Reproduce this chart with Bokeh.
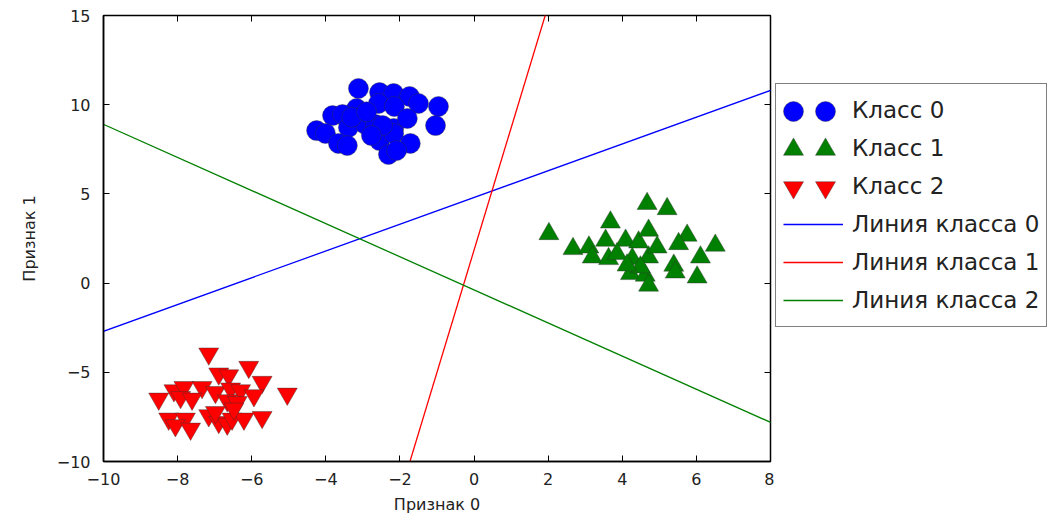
from bokeh.plotting import figure
from bokeh.layouts import row
from bokeh.models import (LinearAxis, Legend, LegendItem, FixedTicker, Range1d,
                          CustomJSTickFormatter)
from bokeh.embed import file_html
from bokeh.resources import INLINE

# ---- data ----
class0_x = [-3.12, -2.55, -2.17, -1.74, -1.50, -0.96, -3.17, -2.58, -2.15, -3.82,
            -3.55, -3.39, -2.93, -2.66, -2.17, -1.80, -1.04, -4.25, -4.01, -3.66,
            -3.42, -2.55, -2.17, -1.72, -2.31, -2.47, -2.09, -2.77, -3.30, -2.90]
class0_y = [10.91, 10.68, 10.63, 10.46, 10.07, 9.90, 9.79, 10.07, 9.90, 9.39,
            9.45, 8.72, 8.89, 8.89, 8.67, 9.23, 8.83, 8.55, 8.39, 7.83,
            7.71, 7.99, 8.39, 7.83, 7.21, 8.83, 7.43, 8.27, 9.30, 9.60]

class1_x = [4.67, 5.21, 2.02, 3.68, 2.67, 3.10, 3.55, 4.09, 4.44, 4.71,
            5.75, 5.52, 6.51, 3.19, 3.63, 3.86, 4.27, 4.71, 4.94, 6.11,
            5.39, 5.43, 4.22, 4.62, 6.02, 4.71, 4.49, 4.13]
class1_y = [4.45, 4.16, 2.76, 3.41, 1.92, 2.01, 2.39, 2.39, 2.29, 2.95,
            2.67, 2.20, 2.11, 1.45, 1.36, 1.64, 1.36, 1.45, 2.01, 1.45,
            0.99, 0.61, 0.52, 0.43, 0.33, -0.13, 0.89, 1.00]

class2_x = [-7.16, -6.08, -6.89, -6.62, -5.72, -5.04, -8.51, -8.10, -7.83, -7.34,
            -6.98, -6.57, -6.30, -5.94, -7.92, -7.61, -6.66, -6.39, -8.24, -7.79,
            -8.06, -7.65, -7.16, -6.89, -6.66, -6.53, -6.21, -5.72, -6.98, -6.48]
class2_y = [-3.96, -4.71, -5.08, -5.18, -5.55, -6.21, -6.49, -6.02, -5.84, -5.84,
            -6.12, -5.92, -6.02, -6.30, -6.40, -6.49, -6.58, -6.68, -7.61, -7.61,
            -7.98, -8.17, -7.42, -7.80, -7.89, -7.61, -7.61, -7.52, -7.24, -7.05]

# class boundary lines: y = slope * x + intercept
line_slopes = [0.75, 6.85, -0.928]
line_intercepts = [4.8, 1.85, -0.38]
line_x = [-15, 15]

x_ticks = [-10, -8, -6, -4, -2, 0, 2, 4, 6, 8]
y_ticks = [-10, -5, 0, 5, 10, 15]

class_labels = ["Класс 0", "Класс 1", "Класс 2"]
line_labels = ["Линия класса 0", "Линия класса 1", "Линия класса 2"]
class_colors = ["#0000ff", "#008000", "#ff0000"]
class_markers = ["circle", "triangle", "inverted_triangle"]
line_colors = ["#0000ff", "#ff0000", "#008000"]

FONT = "DejaVu Sans"
H = 517
TOP, FH = 15, 446          # frame top and frame height (shared by both panels)
FRAME_BOTTOM = TOP + FH


def fmt(v):
    return str(v).replace("-", "\u2212")


p = figure(frame_width=667, frame_height=FH,
           x_range=Range1d(-10, 8), y_range=Range1d(-10, 15),
           output_backend="svg", toolbar_location=None,
           min_border_left=103, min_border_right=4, min_border_top=TOP, min_border_bottom=56)
p.xgrid.visible = False
p.ygrid.visible = False
p.outline_line_color = "black"
p.outline_line_width = 1.5
p.background_fill_color = "white"
p.border_fill_color = "white"

for ax, ticks in ((p.xaxis[0], x_ticks), (p.yaxis[0], y_ticks)):
    ax.ticker = FixedTicker(ticks=ticks)
    ax.major_label_overrides = {t: fmt(t) for t in ticks}
    ax.major_tick_in = 6
    ax.major_tick_out = 0
    ax.minor_tick_line_color = None
    ax.axis_line_width = 1.5
    ax.axis_line_color = "black"
    ax.major_tick_line_color = "black"
    ax.major_label_text_font = FONT
    ax.major_label_text_font_size = "16px"
    ax.major_label_text_color = "#222222"
    ax.axis_label_text_font = FONT
    ax.axis_label_text_font_size = "16px"
    ax.axis_label_text_font_style = "normal"
    ax.axis_label_text_color = "#222222"

p.xaxis[0].axis_label = "Признак 0"
p.yaxis[0].axis_label = "Признак 1"
p.xaxis[0].major_label_standoff = 11
p.xaxis[0].axis_label_standoff = 7
p.yaxis[0].major_label_standoff = 13
p.yaxis[0].axis_label_standoff = 15

blank = CustomJSTickFormatter(code="return ''")
for side, ticks in (("above", x_ticks), ("right", y_ticks)):
    a = LinearAxis(ticker=FixedTicker(ticks=ticks), formatter=blank,
                   major_label_standoff=0, axis_line_color=None, major_tick_in=6,
                   major_tick_out=0, minor_tick_line_color=None,
                   major_tick_line_color="black")
    p.add_layout(a, side)

edge = dict(line_color="#333333", line_width=0.7, line_alpha=0.6)
class_data = [(class0_x, class0_y), (class1_x, class1_y), (class2_x, class2_y)]
for (xs, ys), m, c in zip(class_data, class_markers, class_colors):
    p.scatter(xs, ys, marker=m, size=20, fill_color=c, **edge)

for slope, icpt, c in zip(line_slopes, line_intercepts, line_colors):
    p.line(line_x, [slope * x + icpt for x in line_x], line_color=c, line_width=1.3)

# ---- legend panel (a second, axis-less figure to the right) ----
pl = figure(width=285, height=H, x_range=Range1d(100, 101),
            y_range=Range1d(100, 101), x_axis_location=None, y_axis_location=None,
            output_backend="svg", toolbar_location=None,
            min_border_left=0, min_border_right=0, min_border_top=0, min_border_bottom=0,
            outline_line_color=None)
pl.grid.visible = False
pl.border_fill_color = "white"
pl.background_fill_color = "white"

# renderers that only feed the legend (their data lies outside this panel's ranges)
leg_markers = [pl.scatter(xs, ys, marker=m, size=20, fill_color=c, **edge)
               for (xs, ys), m, c in zip(class_data, class_markers, class_colors)]
leg_blank = pl.scatter(class0_x, class0_y, fill_alpha=0, line_alpha=0)
leg_lines = [pl.line(line_x, [s * x + b for x in line_x], line_color=c, line_width=1.3)
             for s, b, c in zip(line_slopes, line_intercepts, line_colors)]

items = [LegendItem(label=l, renderers=[leg_blank]) for l in class_labels]
items += [LegendItem(label=l, renderers=[r]) for l, r in zip(line_labels, leg_lines)]

LEG_TOP, LEG_H = 85, 7 * 2 + 6 * 38
legend = Legend(items=items, location=(1, FRAME_BOTTOM - LEG_TOP - LEG_H), margin=0, padding=7,
                label_text_font=FONT, label_text_font_size="23px",
                label_text_color="#222222",
                glyph_width=60, glyph_height=38, label_height=38, spacing=0,
                label_standoff=9, border_line_color="black", border_line_width=1.5,
                background_fill_color="white", background_fill_alpha=1.0)
pl.add_layout(legend, "center")

# two marker symbols per class entry, as in the reference
for i, r in enumerate(leg_markers):
    cy = LEG_TOP + 7 + 19 + 38 * i
    for cx in (19, 51):
        g = Legend(items=[LegendItem(label=" ", renderers=[r])],
                   location=(cx - 25, FRAME_BOTTOM - cy - 25), margin=0, padding=0,
                   glyph_width=50, glyph_height=50, label_height=50, label_standoff=0,
                   label_text_font_size="1px", border_line_color=None,
                   background_fill_alpha=0)
        pl.add_layout(g, "center")

open("out.html", "w").write(file_html(row(p, pl), INLINE))
